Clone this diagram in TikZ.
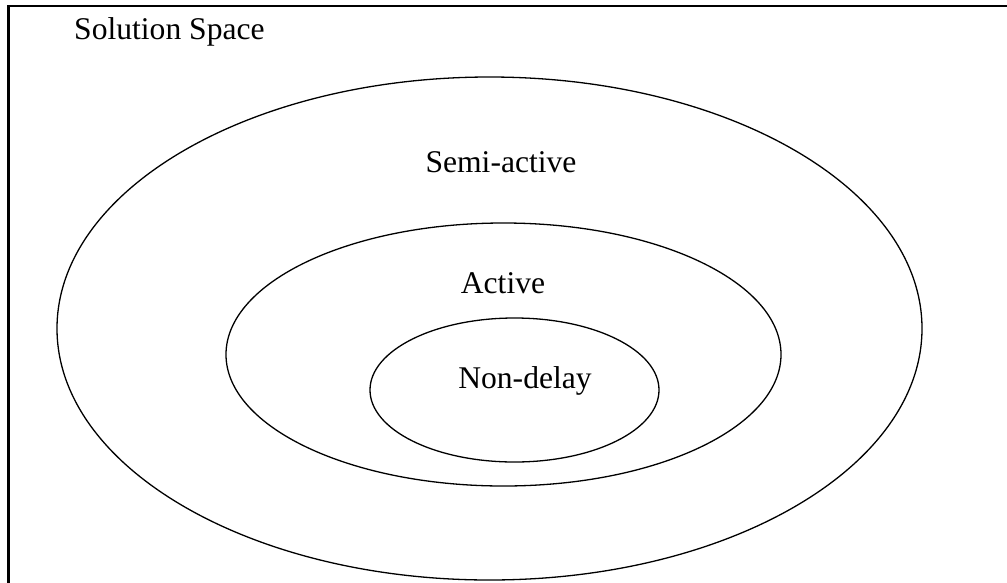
\documentclass[tikz,border=0pt]{standalone}
\usepackage{fontspec}
\setmainfont{Liberation Serif}
\usetikzlibrary{shapes.geometric}
\tikzset{
  setring/.style={draw=black, line width=1.3pt, ellipse, inner sep=0pt},
  setlabel/.style={inner sep=0pt, anchor=base, font=\fontsize{31.6}{38}\selectfont},
}
\begin{document}
\begin{tikzpicture}[x=1pt,y=-1pt]
\useasboundingbox (0,0) rectangle (1007,582);
\clip (0,0) rectangle (1007,582);
\fill[white] (0,0) rectangle (1007,582);
\draw[line width=2.5pt] (8.5,6) rectangle (1020,600);
\node[setring, minimum width=865pt, minimum height=503pt] (outer) at (489.5,328.5) {};
\node[setring, minimum width=555pt, minimum height=263pt] (middle) at (503.5,354.5) {};
\node[setring, minimum width=289pt, minimum height=144pt] (inner) at (514.5,390) {};
\node[setlabel, anchor=base west] (space) at (74,39) {Solution Space};
\node[setlabel] (semi) at (501,172) {Semi-active};
\node[setlabel] (active) at (503,293) {Active};
\node[setlabel] (nondelay) at (525,388) {Non-delay};
\end{tikzpicture}
\end{document}
